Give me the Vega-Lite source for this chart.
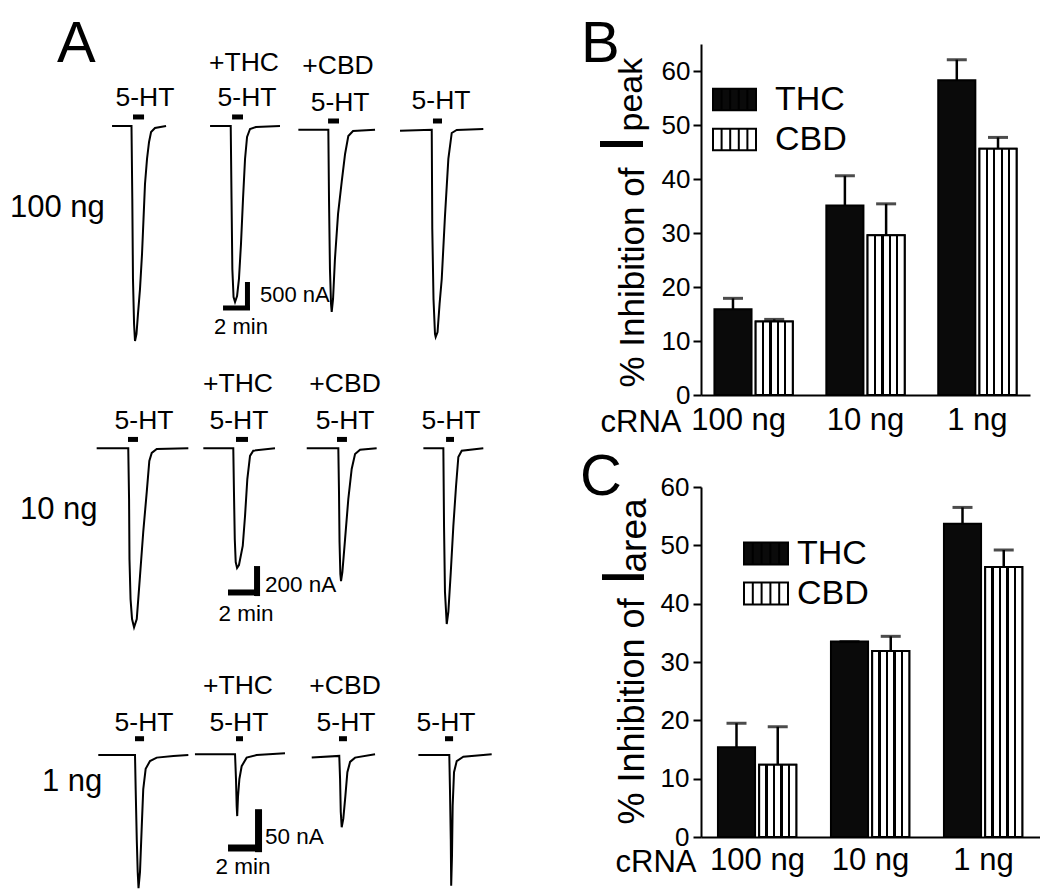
{
  "$schema": "https://vega.github.io/schema/vega-lite/v6.json",
  "padding": {"left": 0, "top": 16, "right": 0, "bottom": 0},
  "background": "white",
  "config": {
    "view": {"stroke": null},
    "font": "Liberation Sans",
    "axis": {"labelFont": "Liberation Sans", "titleFont": "Liberation Sans", "labelColor": "black", "titleColor": "black", "titleFontWeight": "normal", "grid": false},
    "legend": {"labelFont": "Liberation Sans", "labelColor": "black"},
    "title": {"font": "Liberation Sans", "fontWeight": "normal", "color": "black"},
    "text": {"font": "Liberation Sans", "color": "black"}
  },
  "datasets": {
    "traces": [
      {"row":1,"trace":"r1a","t":8.30,"I":0},{"row":1,"trace":"r1a","t":9.74,"I":0},{"row":1,"trace":"r1a","t":9.80,"I":-1304},{"row":1,"trace":"r1a","t":9.85,"I":-2732},{"row":1,"trace":"r1a","t":9.93,"I":-3536},{"row":1,"trace":"r1a","t":10.00,"I":-3839},{"row":1,"trace":"r1a","t":10.11,"I":-3714},{"row":1,"trace":"r1a","t":10.22,"I":-3357},{"row":1,"trace":"r1a","t":10.37,"I":-2911},{"row":1,"trace":"r1a","t":10.52,"I":-2286},{"row":1,"trace":"r1a","t":10.63,"I":-1661},{"row":1,"trace":"r1a","t":10.74,"I":-1036},{"row":1,"trace":"r1a","t":10.89,"I":-589},{"row":1,"trace":"r1a","t":11.04,"I":-286},{"row":1,"trace":"r1a","t":11.19,"I":-107},{"row":1,"trace":"r1a","t":11.48,"I":-36},{"row":1,"trace":"r1a","t":12.30,"I":0},
      {"row":1,"trace":"r1b","t":15.56,"I":0},{"row":1,"trace":"r1b","t":17.09,"I":0},{"row":1,"trace":"r1b","t":17.15,"I":-1304},{"row":1,"trace":"r1b","t":17.21,"I":-2554},{"row":1,"trace":"r1b","t":17.30,"I":-3054},{"row":1,"trace":"r1b","t":17.41,"I":-3143},{"row":1,"trace":"r1b","t":17.56,"I":-3036},{"row":1,"trace":"r1b","t":17.70,"I":-2732},{"row":1,"trace":"r1b","t":17.85,"I":-2107},{"row":1,"trace":"r1b","t":18.00,"I":-1304},{"row":1,"trace":"r1b","t":18.15,"I":-589},{"row":1,"trace":"r1b","t":18.30,"I":-196},{"row":1,"trace":"r1b","t":18.52,"I":-54},{"row":1,"trace":"r1b","t":18.96,"I":-18},{"row":1,"trace":"r1b","t":20.74,"I":0},
      {"row":1,"trace":"r1c","t":22.10,"I":-66},{"row":1,"trace":"r1c","t":24.32,"I":-66},{"row":1,"trace":"r1c","t":24.37,"I":-1304},{"row":1,"trace":"r1c","t":24.44,"I":-2554},{"row":1,"trace":"r1c","t":24.52,"I":-3179},{"row":1,"trace":"r1c","t":24.57,"I":-3322},{"row":1,"trace":"r1c","t":24.67,"I":-3089},{"row":1,"trace":"r1c","t":24.81,"I":-2375},{"row":1,"trace":"r1c","t":25.04,"I":-1571},{"row":1,"trace":"r1c","t":25.31,"I":-1000},{"row":1,"trace":"r1c","t":25.56,"I":-500},{"row":1,"trace":"r1c","t":25.80,"I":-179},{"row":1,"trace":"r1c","t":26.15,"I":-89},{"row":1,"trace":"r1c","t":27.78,"I":-66},
      {"row":1,"trace":"r1d","t":29.63,"I":-84},{"row":1,"trace":"r1d","t":31.98,"I":-66},{"row":1,"trace":"r1d","t":32.02,"I":-1839},{"row":1,"trace":"r1d","t":32.11,"I":-3089},{"row":1,"trace":"r1d","t":32.22,"I":-3714},{"row":1,"trace":"r1d","t":32.27,"I":-3768},{"row":1,"trace":"r1d","t":32.41,"I":-3679},{"row":1,"trace":"r1d","t":32.56,"I":-3179},{"row":1,"trace":"r1d","t":32.72,"I":-2732},{"row":1,"trace":"r1d","t":32.96,"I":-1607},{"row":1,"trace":"r1d","t":33.21,"I":-589},{"row":1,"trace":"r1d","t":33.46,"I":-125},{"row":1,"trace":"r1d","t":33.83,"I":-71},{"row":1,"trace":"r1d","t":35.80,"I":-54},
      {"row":2,"trace":"r2a","t":7.16,"I":0},{"row":2,"trace":"r2a","t":9.50,"I":0},{"row":2,"trace":"r2a","t":9.56,"I":-338},{"row":2,"trace":"r2a","t":9.59,"I":-738},{"row":2,"trace":"r2a","t":9.67,"I":-1005},{"row":2,"trace":"r2a","t":9.78,"I":-1138},{"row":2,"trace":"r2a","t":9.93,"I":-1193},{"row":2,"trace":"r2a","t":10.13,"I":-1138},{"row":2,"trace":"r2a","t":10.37,"I":-851},{"row":2,"trace":"r2a","t":10.61,"I":-558},{"row":2,"trace":"r2a","t":10.87,"I":-291},{"row":2,"trace":"r2a","t":11.06,"I":-85},{"row":2,"trace":"r2a","t":11.24,"I":-31},{"row":2,"trace":"r2a","t":11.61,"I":-5},{"row":2,"trace":"r2a","t":13.95,"I":0},
      {"row":2,"trace":"r2b","t":15.06,"I":0},{"row":2,"trace":"r2b","t":17.28,"I":0},{"row":2,"trace":"r2b","t":17.33,"I":-291},{"row":2,"trace":"r2b","t":17.39,"I":-605},{"row":2,"trace":"r2b","t":17.46,"I":-758},{"row":2,"trace":"r2b","t":17.56,"I":-798},{"row":2,"trace":"r2b","t":17.70,"I":-778},{"row":2,"trace":"r2b","t":17.98,"I":-651},{"row":2,"trace":"r2b","t":18.15,"I":-451},{"row":2,"trace":"r2b","t":18.32,"I":-205},{"row":2,"trace":"r2b","t":18.52,"I":-51},{"row":2,"trace":"r2b","t":18.76,"I":-16},{"row":2,"trace":"r2b","t":20.37,"I":0},
      {"row":2,"trace":"r2c","t":22.72,"I":0},{"row":2,"trace":"r2c","t":25.06,"I":0},{"row":2,"trace":"r2c","t":25.11,"I":-291},{"row":2,"trace":"r2c","t":25.15,"I":-625},{"row":2,"trace":"r2c","t":25.21,"I":-838},{"row":2,"trace":"r2c","t":25.26,"I":-885},{"row":2,"trace":"r2c","t":25.36,"I":-825},{"row":2,"trace":"r2c","t":25.56,"I":-605},{"row":2,"trace":"r2c","t":25.80,"I":-338},{"row":2,"trace":"r2c","t":26.05,"I":-138},{"row":2,"trace":"r2c","t":26.30,"I":-38},{"row":2,"trace":"r2c","t":26.67,"I":-9},{"row":2,"trace":"r2c","t":27.90,"I":0},
      {"row":2,"trace":"r2d","t":31.36,"I":0},{"row":2,"trace":"r2d","t":32.84,"I":0},{"row":2,"trace":"r2d","t":32.89,"I":-518},{"row":2,"trace":"r2d","t":32.96,"I":-958},{"row":2,"trace":"r2d","t":33.09,"I":-1171},{"row":2,"trace":"r2d","t":33.21,"I":-1091},{"row":2,"trace":"r2d","t":33.39,"I":-825},{"row":2,"trace":"r2d","t":33.58,"I":-518},{"row":2,"trace":"r2d","t":33.78,"I":-251},{"row":2,"trace":"r2d","t":33.95,"I":-58},{"row":2,"trace":"r2d","t":34.20,"I":-16},{"row":2,"trace":"r2d","t":35.80,"I":0},
      {"row":3,"trace":"r3a","t":7.28,"I":0},{"row":3,"trace":"r3a","t":10.00,"I":0},{"row":3,"trace":"r3a","t":10.05,"I":-40},{"row":3,"trace":"r3a","t":10.13,"I":-98},{"row":3,"trace":"r3a","t":10.20,"I":-136},{"row":3,"trace":"r3a","t":10.26,"I":-155},{"row":3,"trace":"r3a","t":10.37,"I":-136},{"row":3,"trace":"r3a","t":10.50,"I":-83},{"row":3,"trace":"r3a","t":10.61,"I":-40},{"row":3,"trace":"r3a","t":10.79,"I":-16},{"row":3,"trace":"r3a","t":11.11,"I":-7},{"row":3,"trace":"r3a","t":11.61,"I":-3},{"row":3,"trace":"r3a","t":12.84,"I":-1},{"row":3,"trace":"r3a","t":13.95,"I":0},
      {"row":3,"trace":"r3b","t":14.44,"I":1},{"row":3,"trace":"r3b","t":17.41,"I":1},{"row":3,"trace":"r3b","t":17.48,"I":-28},{"row":3,"trace":"r3b","t":17.53,"I":-59},{"row":3,"trace":"r3b","t":17.57,"I":-71},{"row":3,"trace":"r3b","t":17.63,"I":-48},{"row":3,"trace":"r3b","t":17.73,"I":-28},{"row":3,"trace":"r3b","t":17.90,"I":-13},{"row":3,"trace":"r3b","t":18.27,"I":-3},{"row":3,"trace":"r3b","t":19.01,"I":0},{"row":3,"trace":"r3b","t":21.11,"I":2},
      {"row":3,"trace":"r3c","t":23.09,"I":-3},{"row":3,"trace":"r3c","t":25.13,"I":-1},{"row":3,"trace":"r3c","t":25.19,"I":-28},{"row":3,"trace":"r3c","t":25.24,"I":-66},{"row":3,"trace":"r3c","t":25.31,"I":-84},{"row":3,"trace":"r3c","t":25.43,"I":-74},{"row":3,"trace":"r3c","t":25.58,"I":-48},{"row":3,"trace":"r3c","t":25.73,"I":-20},{"row":3,"trace":"r3c","t":25.93,"I":-8},{"row":3,"trace":"r3c","t":26.30,"I":-3},{"row":3,"trace":"r3c","t":27.78,"I":1},
      {"row":3,"trace":"r3d","t":30.99,"I":0},{"row":3,"trace":"r3d","t":33.28,"I":0},{"row":3,"trace":"r3d","t":33.33,"I":-40},{"row":3,"trace":"r3d","t":33.39,"I":-98},{"row":3,"trace":"r3d","t":33.42,"I":-152},{"row":3,"trace":"r3d","t":33.48,"I":-117},{"row":3,"trace":"r3d","t":33.53,"I":-59},{"row":3,"trace":"r3d","t":33.63,"I":-20},{"row":3,"trace":"r3d","t":33.83,"I":-7},{"row":3,"trace":"r3d","t":34.32,"I":-2},{"row":3,"trace":"r3d","t":36.42,"I":1}
    ],
    "stim": [
      {"row":1,"t":9.85,"t2":10.67,"I":161},{"row":1,"t":17.19,"t2":18.00,"I":161},{"row":1,"t":24.30,"t2":25.11,"I":89},{"row":1,"t":32.07,"t2":32.74,"I":89},
      {"row":2,"t":9.48,"t2":10.22,"I":59},{"row":2,"t":17.48,"t2":18.37,"I":59},{"row":2,"t":24.96,"t2":25.70,"I":59},{"row":2,"t":33.04,"t2":33.63,"I":59},
      {"row":3,"t":10.00,"t2":10.67,"I":19},{"row":3,"t":17.48,"t2":18.00,"I":19},{"row":3,"t":25.11,"t2":25.70,"I":19},{"row":3,"t":32.96,"t2":33.56,"I":19}
    ],
    "scalebar": [
      {"row":1,"t":18.33,"t2":18.33,"I":-2786,"I2":-3286},{"row":1,"t":16.52,"t2":18.52,"I":-3250,"I2":-3250},
      {"row":2,"t":19.04,"t2":19.04,"I":-785,"I2":-985},{"row":2,"t":16.89,"t2":19.22,"I":-961,"I2":-961},
      {"row":3,"t":19.15,"t2":19.15,"I":-63,"I2":-113},{"row":3,"t":16.89,"t2":19.33,"I":-108,"I2":-108}
    ],
    "labelsA": [
      {"row":1,"kind":"row","text":"100 ng","t":0.74,"I":-1625},
      {"row":1,"kind":"stim","text":"5-HT","t":10.74,"I":357},
      {"row":1,"kind":"stim","text":"+THC","t":18.07,"I":982},
      {"row":1,"kind":"stim","text":"5-HT","t":18.30,"I":357},
      {"row":1,"kind":"stim","text":"+CBD","t":25.04,"I":929},
      {"row":1,"kind":"stim","text":"5-HT","t":25.19,"I":268},
      {"row":1,"kind":"stim","text":"5-HT","t":32.67,"I":304},
      {"row":1,"kind":"amp","text":"500 nA","t":19.26,"I":-3143},
      {"row":1,"kind":"time","text":"2 min","t":17.85,"I":-3714},
      {"row":2,"kind":"row","text":"10 ng","t":1.48,"I":-471},
      {"row":2,"kind":"stim","text":"5-HT","t":10.67,"I":129},
      {"row":2,"kind":"stim","text":"+THC","t":17.63,"I":375},
      {"row":2,"kind":"stim","text":"5-HT","t":17.70,"I":129},
      {"row":2,"kind":"stim","text":"+CBD","t":25.56,"I":375},
      {"row":2,"kind":"stim","text":"5-HT","t":25.56,"I":129},
      {"row":2,"kind":"stim","text":"5-HT","t":33.41,"I":129},
      {"row":2,"kind":"amp","text":"200 nA","t":19.63,"I":-958},
      {"row":2,"kind":"time","text":"2 min","t":18.22,"I":-1151},
      {"row":3,"kind":"row","text":"1 ng","t":3.11,"I":-42},
      {"row":3,"kind":"stim","text":"5-HT","t":10.67,"I":28},
      {"row":3,"kind":"stim","text":"+THC","t":17.63,"I":71},
      {"row":3,"kind":"stim","text":"5-HT","t":17.70,"I":28},
      {"row":3,"kind":"stim","text":"+CBD","t":25.56,"I":71},
      {"row":3,"kind":"stim","text":"5-HT","t":25.63,"I":28},
      {"row":3,"kind":"stim","text":"5-HT","t":33.04,"I":28},
      {"row":3,"kind":"amp","text":"50 nA","t":19.63,"I":-104},
      {"row":3,"kind":"time","text":"2 min","t":18.0,"I":-138}
    ],
    "peak": [
      {"cRNA":"100 ng","drug":"THC","mean":15.9,"hi":17.9},
      {"cRNA":"100 ng","drug":"CBD","mean":13.6,"hi":14.0},
      {"cRNA":"10 ng","drug":"THC","mean":35.1,"hi":40.6},
      {"cRNA":"10 ng","drug":"CBD","mean":29.6,"hi":35.4},
      {"cRNA":"1 ng","drug":"THC","mean":58.3,"hi":62.1},
      {"cRNA":"1 ng","drug":"CBD","mean":45.6,"hi":47.7}
    ],
    "area": [
      {"cRNA":"100 ng","drug":"THC","mean":15.4,"hi":19.5},
      {"cRNA":"100 ng","drug":"CBD","mean":12.4,"hi":18.9},
      {"cRNA":"10 ng","drug":"THC","mean":33.5,"hi":33.5},
      {"cRNA":"10 ng","drug":"CBD","mean":31.9,"hi":34.4},
      {"cRNA":"1 ng","drug":"THC","mean":53.7,"hi":56.5},
      {"cRNA":"1 ng","drug":"CBD","mean":46.3,"hi":49.2}
    ]
  },
  "spacing": 20,
  "resolve": {"scale": {"fill": "independent"}, "legend": {"fill": "independent"}},
  "hconcat": [
    {
      "vconcat": [
        {
          "width": 560, "height": 315,
          "title": {"text": "A", "anchor": "start", "frame": "group", "fontSize": 58, "baseline": "alphabetic", "offset": 0, "dx": 57, "dy": 76},
          "encoding": {
            "x": {"field": "t", "type": "quantitative", "scale": {"domain": [0, 41.48], "nice": false, "zero": false}, "axis": null},
            "y": {"field": "I", "type": "quantitative", "scale": {"domain": [-4161, 1464], "nice": false, "zero": false}, "axis": null}
          },
          "layer": [
            {"data": {"name": "traces"}, "transform": [{"filter": "datum.row === 1"}], "mark": {"type": "line", "color": "black", "strokeWidth": 2}, "encoding": {"detail": {"field": "trace", "type": "nominal"}}},
            {"data": {"name": "stim"}, "transform": [{"filter": "datum.row === 1"}], "mark": {"type": "rule", "color": "black", "strokeWidth": 5}, "encoding": {"x2": {"field": "t2"}}},
            {"data": {"name": "scalebar"}, "transform": [{"filter": "datum.row === 1"}], "mark": {"type": "rule", "color": "black", "strokeWidth": 5}, "encoding": {"x2": {"field": "t2"}, "y2": {"field": "I2"}}},
            {"data": {"name": "labelsA"}, "transform": [{"filter": "datum.row === 1 && datum.kind === 'stim'"}], "mark": {"type": "text", "fontSize": 26.5, "align": "center", "baseline": "alphabetic"}, "encoding": {"text": {"field": "text"}}},
            {"data": {"name": "labelsA"}, "transform": [{"filter": "datum.row === 1 && datum.kind === 'row'"}], "mark": {"type": "text", "fontSize": 31, "align": "left", "baseline": "alphabetic"}, "encoding": {"text": {"field": "text"}}},
            {"data": {"name": "labelsA"}, "transform": [{"filter": "datum.row === 1 && datum.kind === 'amp'"}], "mark": {"type": "text", "fontSize": 22, "align": "left", "baseline": "alphabetic"}, "encoding": {"text": {"field": "text"}}},
            {"data": {"name": "labelsA"}, "transform": [{"filter": "datum.row === 1 && datum.kind === 'time'"}], "mark": {"type": "text", "fontSize": 22, "align": "center", "baseline": "alphabetic"}, "encoding": {"text": {"field": "text"}}}
          ]
        },
        {
          "width": 560, "height": 280,
          "encoding": {
            "x": {"field": "t", "type": "quantitative", "scale": {"domain": [0, 41.48], "nice": false, "zero": false}, "axis": null},
            "y": {"field": "I", "type": "quantitative", "scale": {"domain": [-1271, 595], "nice": false, "zero": false}, "axis": null}
          },
          "layer": [
            {"data": {"name": "traces"}, "transform": [{"filter": "datum.row === 2"}], "mark": {"type": "line", "color": "black", "strokeWidth": 2}, "encoding": {"detail": {"field": "trace", "type": "nominal"}}},
            {"data": {"name": "stim"}, "transform": [{"filter": "datum.row === 2"}], "mark": {"type": "rule", "color": "black", "strokeWidth": 5}, "encoding": {"x2": {"field": "t2"}}},
            {"data": {"name": "scalebar"}, "transform": [{"filter": "datum.row === 2"}], "mark": {"type": "rule", "color": "black", "strokeWidth": 6}, "encoding": {"x2": {"field": "t2"}, "y2": {"field": "I2"}}},
            {"data": {"name": "labelsA"}, "transform": [{"filter": "datum.row === 2 && datum.kind === 'stim'"}], "mark": {"type": "text", "fontSize": 26.5, "align": "center", "baseline": "alphabetic"}, "encoding": {"text": {"field": "text"}}},
            {"data": {"name": "labelsA"}, "transform": [{"filter": "datum.row === 2 && datum.kind === 'row'"}], "mark": {"type": "text", "fontSize": 31, "align": "left", "baseline": "alphabetic"}, "encoding": {"text": {"field": "text"}}},
            {"data": {"name": "labelsA"}, "transform": [{"filter": "datum.row === 2 && datum.kind === 'amp'"}], "mark": {"type": "text", "fontSize": 22.5, "align": "left", "baseline": "alphabetic"}, "encoding": {"text": {"field": "text"}}},
            {"data": {"name": "labelsA"}, "transform": [{"filter": "datum.row === 2 && datum.kind === 'time'"}], "mark": {"type": "text", "fontSize": 22.5, "align": "center", "baseline": "alphabetic"}, "encoding": {"text": {"field": "text"}}}
          ]
        },
        {
          "width": 560, "height": 251,
          "encoding": {
            "x": {"field": "t", "type": "quantitative", "scale": {"domain": [0, 41.48], "nice": false, "zero": false}, "axis": null},
            "y": {"field": "I", "type": "quantitative", "scale": {"domain": [-157, 135], "nice": false, "zero": false}, "axis": null}
          },
          "layer": [
            {"data": {"name": "traces"}, "transform": [{"filter": "datum.row === 3"}], "mark": {"type": "line", "color": "black", "strokeWidth": 2}, "encoding": {"detail": {"field": "trace", "type": "nominal"}}},
            {"data": {"name": "stim"}, "transform": [{"filter": "datum.row === 3"}], "mark": {"type": "rule", "color": "black", "strokeWidth": 5}, "encoding": {"x2": {"field": "t2"}}},
            {"data": {"name": "scalebar"}, "transform": [{"filter": "datum.row === 3"}], "mark": {"type": "rule", "color": "black", "strokeWidth": 7}, "encoding": {"x2": {"field": "t2"}, "y2": {"field": "I2"}}},
            {"data": {"name": "labelsA"}, "transform": [{"filter": "datum.row === 3 && datum.kind === 'stim'"}], "mark": {"type": "text", "fontSize": 26.5, "align": "center", "baseline": "alphabetic"}, "encoding": {"text": {"field": "text"}}},
            {"data": {"name": "labelsA"}, "transform": [{"filter": "datum.row === 3 && datum.kind === 'row'"}], "mark": {"type": "text", "fontSize": 31, "align": "left", "baseline": "alphabetic"}, "encoding": {"text": {"field": "text"}}},
            {"data": {"name": "labelsA"}, "transform": [{"filter": "datum.row === 3 && datum.kind === 'amp'"}], "mark": {"type": "text", "fontSize": 22.5, "align": "left", "baseline": "alphabetic"}, "encoding": {"text": {"field": "text"}}},
            {"data": {"name": "labelsA"}, "transform": [{"filter": "datum.row === 3 && datum.kind === 'time'"}], "mark": {"type": "text", "fontSize": 22.5, "align": "center", "baseline": "alphabetic"}, "encoding": {"text": {"field": "text"}}}
          ]
        }
      ],
      "spacing": 0,
      "bounds": "flush"
    },
    {
      "resolve": {"scale": {"fill": "independent"}, "legend": {"fill": "independent"}},
      "vconcat": [
        {
          "width": 329, "height": 351,
          "title": {"text": "B", "anchor": "start", "frame": "group", "fontSize": 58, "baseline": "alphabetic", "offset": 0, "dx": -120, "dy": 76},
          "data": {"name": "peak"},
          "encoding": {
            "x": {"field": "cRNA", "type": "nominal", "sort": ["100 ng", "10 ng", "1 ng"], "scale": {"paddingInner": 0.3, "paddingOuter": 0.12},
              "axis": {"title": "cRNA", "labelAngle": 0, "ticks": false, "tickSize": 0, "domainColor": "black", "domainWidth": 2, "labelFontSize": 31, "labelPadding": 10,
                "labelOffset": {"condition": {"test": "datum.value === '100 ng'", "value": -15}, "value": 0},
                "titleFontSize": 31, "titleAngle": 0, "titleAlign": "left", "titleBaseline": "alphabetic", "titleX": -101, "titleY": 36}},
            "xOffset": {"field": "drug", "type": "nominal", "sort": ["THC", "CBD"], "scale": {"paddingInner": 0.1}}
          },
          "layer": [
            {"mark": {"type": "bar", "stroke": "black", "strokeWidth": 2},
              "encoding": {
                "y": {"field": "mean", "type": "quantitative", "scale": {"domain": [0, 65], "nice": false},
                  "axis": {"title": "% Inhibition of", "values": [0, 10, 20, 30, 40, 50, 60], "domainColor": "black", "domainWidth": 2, "tickColor": "black", "tickWidth": 2, "tickSize": 8, "labelFontSize": 26, "labelPadding": 3,
                    "titleFontSize": 35, "titleAngle": 270, "titleAlign": "left", "titleBaseline": "alphabetic", "titleX": -58, "titleY": 343}},
                "fill": {"field": "drug", "type": "nominal", "sort": ["THC", "CBD"],
                  "scale": {"domain": ["THC", "CBD"], "range": ["#0a0a0a", "white"]},
                  "legend": {"orient": "none", "legendX": 11, "legendY": 33, "title": null, "symbolType": "M-1,-0.5H1V0.5H-1Z M-0.6,-0.5V0.5 M-0.2,-0.5V0.5 M0.2,-0.5V0.5 M0.6,-0.5V0.5", "symbolSize": 1849, "symbolStrokeColor": "black", "symbolStrokeWidth": 2, "symbolOpacity": 1, "labelFontSize": 34, "labelOffset": 18, "rowPadding": 0, "padding": 0}}
              }},
            {"transform": [{"filter": "datum.drug === 'CBD'"}],
              "mark": {"type": "bar", "stroke": "black", "strokeWidth": 2,
                "fill": {"gradient": "linear", "x1": 0, "y1": 0, "x2": 1, "y2": 0, "stops": [{"offset": 0, "color": "white"}, {"offset": 0.17, "color": "white"}, {"offset": 0.17, "color": "black"}, {"offset": 0.23, "color": "black"}, {"offset": 0.23, "color": "white"}, {"offset": 0.37, "color": "white"}, {"offset": 0.37, "color": "black"}, {"offset": 0.43, "color": "black"}, {"offset": 0.43, "color": "white"}, {"offset": 0.57, "color": "white"}, {"offset": 0.57, "color": "black"}, {"offset": 0.63, "color": "black"}, {"offset": 0.63, "color": "white"}, {"offset": 0.77, "color": "white"}, {"offset": 0.77, "color": "black"}, {"offset": 0.83, "color": "black"}, {"offset": 0.83, "color": "white"}, {"offset": 1, "color": "white"}]}},
              "encoding": {"y": {"field": "mean", "type": "quantitative", "scale": {"domain": [0, 65], "nice": false}, "axis": null}}},
            {"mark": {"type": "rule", "color": "black", "strokeWidth": 2.5},
              "encoding": {"y": {"field": "mean", "type": "quantitative", "scale": {"domain": [0, 65], "nice": false}, "axis": null}, "y2": {"field": "hi"}}},
            {"mark": {"type": "tick", "color": "black", "thickness": 3, "size": 20},
              "encoding": {"y": {"field": "hi", "type": "quantitative", "scale": {"domain": [0, 65], "nice": false}, "axis": null}}},
            {"mark": {"type": "point", "opacity": 0},
              "encoding": {"y": {"field": "mean", "type": "quantitative", "scale": {"domain": [0, 65], "nice": false},
                "axis": {"orient": "left", "domain": false, "ticks": false, "labels": false, "title": "I", "titleFontSize": 63, "titleAngle": 270, "titleAlign": "center", "titleBaseline": "alphabetic", "titleX": -59, "titleY": 99.5}}}},
            {"mark": {"type": "point", "opacity": 0},
              "encoding": {"y": {"field": "mean", "type": "quantitative", "scale": {"domain": [0, 65], "nice": false},
                "axis": {"orient": "left", "domain": false, "ticks": false, "labels": false, "title": "peak", "titleFontSize": 34, "titleAngle": 270, "titleAlign": "left", "titleBaseline": "alphabetic", "titleX": -60, "titleY": 87}}}}
          ],
          "resolve": {"scale": {"y": "independent"}}
        },
        {
          "width": 339, "height": 350,
          "title": {"text": "C", "anchor": "start", "frame": "group", "fontSize": 58, "baseline": "alphabetic", "offset": 0, "dx": -121, "dy": 79},
          "data": {"name": "area"},
          "encoding": {
            "x": {"field": "cRNA", "type": "nominal", "sort": ["100 ng", "10 ng", "1 ng"], "scale": {"paddingInner": 0.3, "paddingOuter": 0.15},
              "axis": {"title": "cRNA", "labelAngle": 0, "ticks": false, "tickSize": 0, "domainColor": "black", "domainWidth": 2, "labelFontSize": 31, "labelPadding": 8,
                "titleFontSize": 31, "titleAngle": 0, "titleAlign": "left", "titleBaseline": "alphabetic", "titleX": -86, "titleY": 34}},
            "xOffset": {"field": "drug", "type": "nominal", "sort": ["THC", "CBD"], "scale": {"paddingInner": 0.1}}
          },
          "layer": [
            {"mark": {"type": "bar", "stroke": "black", "strokeWidth": 2},
              "encoding": {
                "y": {"field": "mean", "type": "quantitative", "scale": {"domain": [0, 60], "nice": false},
                  "axis": {"title": "% Inhibition of", "values": [0, 10, 20, 30, 40, 50, 60], "domainColor": "black", "domainWidth": 2, "tickColor": "black", "tickWidth": 2, "tickSize": 8, "labelFontSize": 26, "labelPadding": 4,
                    "titleFontSize": 36, "titleAngle": 270, "titleAlign": "left", "titleBaseline": "alphabetic", "titleX": -58, "titleY": 337}},
                "fill": {"field": "drug", "type": "nominal", "sort": ["THC", "CBD"],
                  "scale": {"domain": ["THC", "CBD"], "range": ["#0a0a0a", "white"]},
                  "legend": {"orient": "none", "legendX": 42, "legendY": 43.5, "title": null, "symbolType": "M-1,-0.5H1V0.5H-1Z M-0.6,-0.5V0.5 M-0.2,-0.5V0.5 M0.2,-0.5V0.5 M0.6,-0.5V0.5", "symbolSize": 1936, "symbolStrokeColor": "black", "symbolStrokeWidth": 2, "symbolOpacity": 1, "labelFontSize": 34, "labelOffset": 8, "rowPadding": 0, "padding": 0}}
              }},
            {"transform": [{"filter": "datum.drug === 'CBD'"}],
              "mark": {"type": "bar", "stroke": "black", "strokeWidth": 2,
                "fill": {"gradient": "linear", "x1": 0, "y1": 0, "x2": 1, "y2": 0, "stops": [{"offset": 0, "color": "white"}, {"offset": 0.17, "color": "white"}, {"offset": 0.17, "color": "black"}, {"offset": 0.23, "color": "black"}, {"offset": 0.23, "color": "white"}, {"offset": 0.37, "color": "white"}, {"offset": 0.37, "color": "black"}, {"offset": 0.43, "color": "black"}, {"offset": 0.43, "color": "white"}, {"offset": 0.57, "color": "white"}, {"offset": 0.57, "color": "black"}, {"offset": 0.63, "color": "black"}, {"offset": 0.63, "color": "white"}, {"offset": 0.77, "color": "white"}, {"offset": 0.77, "color": "black"}, {"offset": 0.83, "color": "black"}, {"offset": 0.83, "color": "white"}, {"offset": 1, "color": "white"}]}},
              "encoding": {"y": {"field": "mean", "type": "quantitative", "scale": {"domain": [0, 60], "nice": false}, "axis": null}}},
            {"mark": {"type": "rule", "color": "black", "strokeWidth": 2.5},
              "encoding": {"y": {"field": "mean", "type": "quantitative", "scale": {"domain": [0, 60], "nice": false}, "axis": null}, "y2": {"field": "hi"}}},
            {"mark": {"type": "tick", "color": "black", "thickness": 3, "size": 20},
              "encoding": {"y": {"field": "hi", "type": "quantitative", "scale": {"domain": [0, 60], "nice": false}, "axis": null}}},
            {"mark": {"type": "point", "opacity": 0},
              "encoding": {"y": {"field": "mean", "type": "quantitative", "scale": {"domain": [0, 60], "nice": false},
                "axis": {"orient": "left", "domain": false, "ticks": false, "labels": false, "title": "I", "titleFontSize": 61, "titleAngle": 270, "titleAlign": "center", "titleBaseline": "alphabetic", "titleX": -58, "titleY": 89.5}}}},
            {"mark": {"type": "point", "opacity": 0},
              "encoding": {"y": {"field": "mean", "type": "quantitative", "scale": {"domain": [0, 60], "nice": false},
                "axis": {"orient": "left", "domain": false, "ticks": false, "labels": false, "title": "area", "titleFontSize": 37, "titleAngle": 270, "titleAlign": "left", "titleBaseline": "alphabetic", "titleX": -56, "titleY": 85}}}}
          ],
          "resolve": {"scale": {"y": "independent"}}
        }
      ],
      "spacing": 92,
      "bounds": "flush"
    }
  ]
}
